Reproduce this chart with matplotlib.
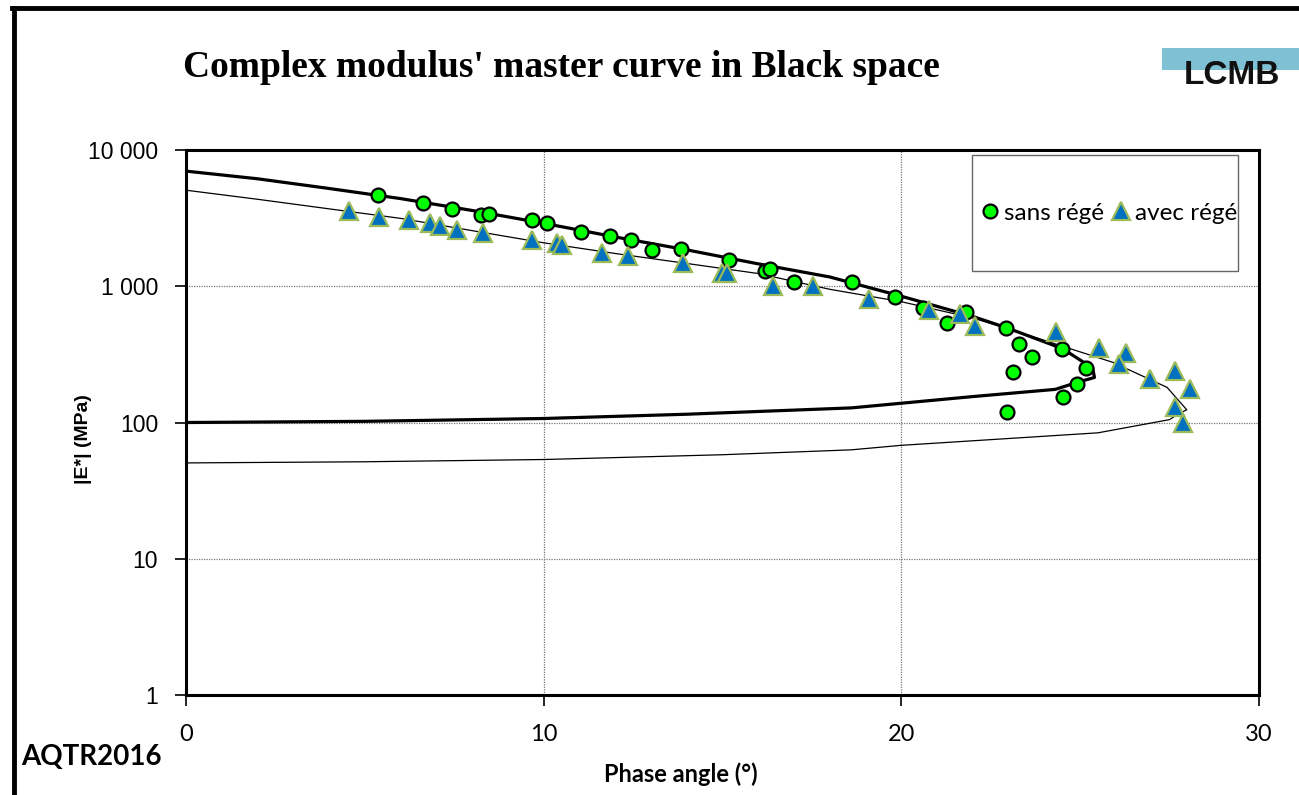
import matplotlib
matplotlib.use("Agg")
import matplotlib.pyplot as plt
from matplotlib.patches import Rectangle
from matplotlib.lines import Line2D

# measured points, sans régénération
sans_phase = [5.36, 6.63, 7.44, 8.25, 8.47, 9.67, 10.09, 11.04, 11.85, 12.44,
              13.03, 13.84, 15.18, 16.19, 16.33, 17.00, 18.62, 19.82, 20.60,
              21.27, 21.81, 22.92, 23.29, 23.65, 23.12, 24.49, 25.16, 24.91,
              24.52, 22.95]
sans_mod = [4660, 4050, 3720, 3360, 3420, 3040, 2890, 2520, 2320, 2200,
            1860, 1890, 1570, 1300, 1350, 1070, 1070, 841, 687,
            542, 642, 498, 380, 300, 233, 349, 253, 193,
            153, 120]

# measured points, avec régénération
avec_phase = [4.56, 5.40, 6.23, 6.82, 7.10, 7.58, 8.30, 9.67, 10.37, 10.51,
              11.63, 12.36, 13.89, 14.98, 15.12, 16.41, 17.53, 19.09, 20.77,
              21.64, 22.06, 24.32, 25.52, 26.28, 26.08, 26.95, 27.65, 28.07,
              27.65, 27.87]
avec_mod = [3540, 3250, 3040, 2890, 2750, 2570, 2480, 2200, 2095, 2025,
            1740, 1680, 1470, 1260, 1260, 1010, 1010, 813, 664,
            621, 515, 465, 355, 326, 267, 207, 237, 175,
            131, 100]

# model curves
model_sans_phase = [0, 2, 4, 6, 8, 10, 12, 14, 16, 18, 20, 22, 23, 24.5,
                    25.35, 25.4, 25.0, 24.3, 22, 18.6, 14, 10, 5, 0]
model_sans_mod = [7000, 6150, 5220, 4400, 3600, 2900, 2300, 1850, 1460, 1170,
                  845, 600, 490, 349, 251, 214, 200, 175, 155, 128, 115, 107,
                  102, 100]

model_avec_phase = [0, 2, 4, 6, 8, 10, 12, 14, 16, 18, 20, 22, 23.3, 24.35,
                    25.92, 27.43, 27.98, 27.73, 27.5, 25.5, 20, 18.6, 15, 10,
                    5, 0]
model_avec_mod = [5070, 4350, 3700, 3150, 2560, 2084, 1740, 1470, 1240, 950,
                  770, 585, 460, 374, 276, 181, 124, 115, 105, 84, 68, 63,
                  58, 53.5, 51.5, 50.5]

y_ticks = [1, 10, 100, 1000, 10000]
y_labels = ['1', '10', '100', '1 000', '10 000']
x_ticks = [0, 10, 20, 30]

calibri_like = 'Lato'
arial_like = 'Liberation Sans'

fig = plt.figure(figsize=(12.99, 7.95), dpi=100)
ax = fig.add_axes([0.1432, 0.1258, 0.8260, 0.6855])

ax.plot(model_sans_phase, model_sans_mod, color='black', lw=2.3, zorder=2)
ax.plot(model_avec_phase, model_avec_mod, color='black', lw=0.9, zorder=2)
ax.plot(sans_phase, sans_mod, 'o', ms=10, mfc='#00ff00', mec='black', mew=1.6,
        label='sans régé', zorder=3)
ax.plot(avec_phase, avec_mod, '^', ms=13.5, mfc='#0070c0', mec='#9bbb59', mew=1.6,
        label='avec régé', zorder=4)

ax.set_yscale('log')
ax.set_xlim(0, 30)
ax.set_ylim(1, 10000)
ax.set_yticks(y_ticks)
ax.set_yticklabels(y_labels)
ax.minorticks_off()
ax.set_xticks(x_ticks)

for lab in ax.get_xticklabels():
    lab.set_fontfamily(calibri_like)
    lab.set_fontsize(17)
for lab in ax.get_yticklabels():
    lab.set_fontfamily(arial_like)
    lab.set_fontsize(16.5)

ax.tick_params(axis='y', direction='out', length=8, width=1.2, pad=12)
ax.tick_params(axis='x', direction='out', length=8, width=1.2, pad=13)

for s in ax.spines.values():
    s.set_linewidth(2.2)

ax.grid(True, which='major', linestyle=(0, (1, 1)), color='#777777', lw=0.9)
ax.set_axisbelow(True)

ax.set_xlabel('Phase angle (°)', fontfamily=calibri_like, fontweight='bold', fontsize=17)
ax.set_ylabel('|E*| (MPa)', fontfamily=arial_like, fontweight='bold', fontsize=14)
ax.xaxis.set_label_coords(0.461, -0.123)
ax.yaxis.set_label_coords(-0.0876, 0.47)

# legend box
ax.add_patch(Rectangle((0.7325, 0.778), 0.248, 0.2128, transform=ax.transAxes,
                       facecolor='white', edgecolor='#666666', lw=1, zorder=5))
leg = ax.legend(loc='center', bbox_to_anchor=(0.861, 0.884), ncol=2, frameon=False,
                handletextpad=0.28, columnspacing=0.42, handlelength=0.6,
                borderaxespad=0, prop={'family': calibri_like, 'size': 17.5})
leg.set_zorder(6)

fig.text(0.432, 0.9145, "Complex modulus' master curve in Black space",
         ha='center', va='center', fontfamily='Liberation Serif',
         fontweight='bold', fontsize=27)

fig.text(0.016, 0.048, 'AQTR2016', ha='left', va='center', fontfamily=calibri_like,
         fontweight='bold', fontsize=20)

# logo
fig.patches.append(Rectangle((0.8945, 0.912), 0.1055, 0.0277, transform=fig.transFigure,
                             facecolor='#7fc1d4', edgecolor='none'))
fig.text(0.9485, 0.9055, 'LCMB', ha='center', va='center', fontfamily=arial_like,
         fontweight='bold', fontsize=24, color='#111111')

# outer frame
fig.lines.append(Line2D([0.011, 0.011], [0.0, 0.99], transform=fig.transFigure,
                        color='black', lw=3.5))
fig.lines.append(Line2D([0.0095, 1.0], [0.99, 0.99], transform=fig.transFigure,
                        color='black', lw=3.5))

fig.savefig('out.png', dpi=100)
